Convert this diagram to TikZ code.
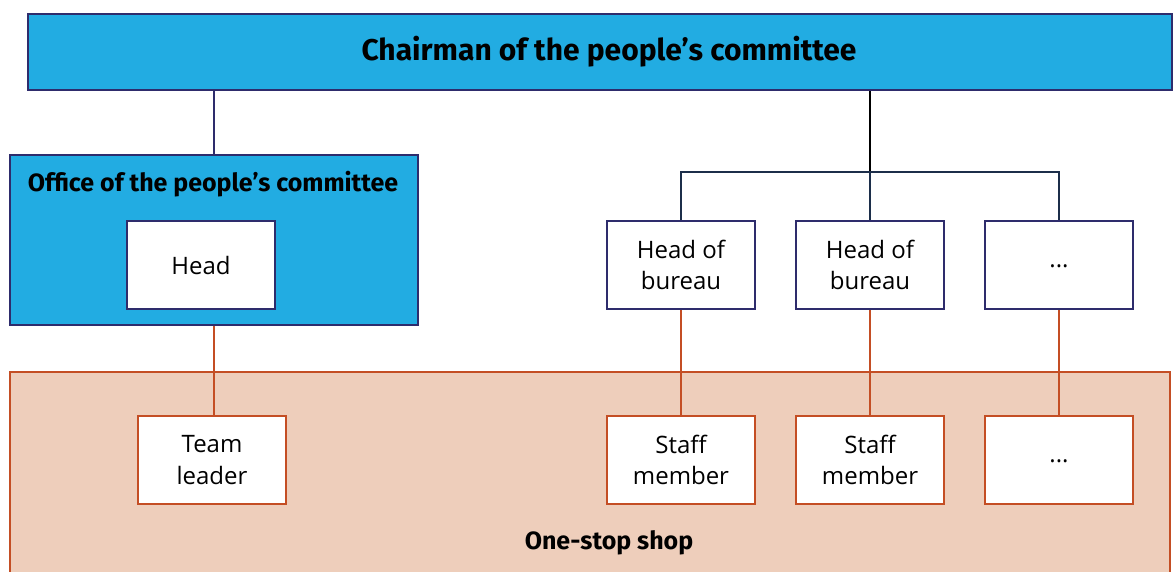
\documentclass[tikz,border=0pt]{standalone}
\usepackage{fontspec}
\setmainfont{Open Sans}
\newfontfamily\titlefont{Fira Sans}
\definecolor{navy}{HTML}{2E2C6C}
\definecolor{skyfill}{HTML}{22ACE2}
\definecolor{rust}{HTML}{C44E24}
\definecolor{peach}{HTML}{EECEBB}
\definecolor{branch}{HTML}{1C2E4A}
\tikzset{
  bluebox/.style={draw=navy, line width=2.6pt, fill=skyfill, inner sep=0pt},
  navybox/.style={draw=navy, line width=2.6pt, fill=white, minimum width=148pt, minimum height=88pt, align=center, inner sep=0pt, font=\fontsize{24}{31.5}\selectfont},
  rustbox/.style={draw=rust, line width=2.6pt, fill=white, minimum width=148pt, minimum height=88pt, align=center, inner sep=0pt, font=\fontsize{24}{31.5}\selectfont},
  shopbox/.style={draw=rust, line width=2.6pt, fill=peach, inner sep=0pt},
  titletext/.style={font=\titlefont\bfseries\fontsize{25}{30}\selectfont, inner sep=0pt},
  navyline/.style={draw=navy, line width=2.6pt},
  blackline/.style={draw=black, line width=2.6pt},
  branchline/.style={draw=branch, line width=2.6pt},
  rustline/.style={draw=rust, line width=2.6pt}
}
\begin{document}
\begin{tikzpicture}[x=1pt,y=-1pt]
\clip (0,0) rectangle (1174,571);
\fill[white] (0,0) rectangle (1174,571);
% one-stop shop area
\node[shopbox, minimum width=1160pt, minimum height=240pt] (shop) at (590,492) {};
\node[titletext] (shoplbl) at (609,543) {One-stop shop};
% chairman
\node[bluebox, minimum width=1144pt, minimum height=76pt] (top) at (600,52) {};
\node[titletext, font=\titlefont\bfseries\fontsize{30}{34}\selectfont] (toplbl) at (609,52) {Chairman of the people’s committee};
% office
\node[bluebox, minimum width=408pt, minimum height=170pt] (office) at (214,240) {};
\node[titletext, font=\titlefont\bfseries\fontsize{25}{30}\selectfont] (officelbl) at (213,184) {Office of the people’s committee};
\node[navybox] (head) at (201,265) {Head};
% bureaus
\node[navybox] (b1) at (681,265) {Head of\\bureau};
\node[navybox] (b2) at (870,265) {Head of\\bureau};
\node[navybox] (b3) at (1059,265) {\raisebox{-5pt}{...}};
% staff
\node[rustbox] (t) at (212,460) {Team\\leader};
\node[rustbox] (s1) at (681,460) {Staff\\member};
\node[rustbox] (s2) at (870,460) {Staff\\member};
\node[rustbox] (s3) at (1059,460) {\raisebox{-5pt}{...}};
% connectors
\coordinate (j) at (870,172);
\draw[navyline] (top.south -| office.north) -- (office.north);
\draw[blackline] (top.south -| j) -- (j);
\draw[branchline] (b1.north) |- (j) -| (b3.north);
\draw[branchline] (j) -- (b2.north);
\draw[rustline] (office.south) -- (office.south |- t.north);
\draw[rustline] (b1.south) -- (s1.north);
\draw[rustline] (b2.south) -- (s2.north);
\draw[rustline] (b3.south) -- (s3.north);
\end{tikzpicture}
\end{document}
